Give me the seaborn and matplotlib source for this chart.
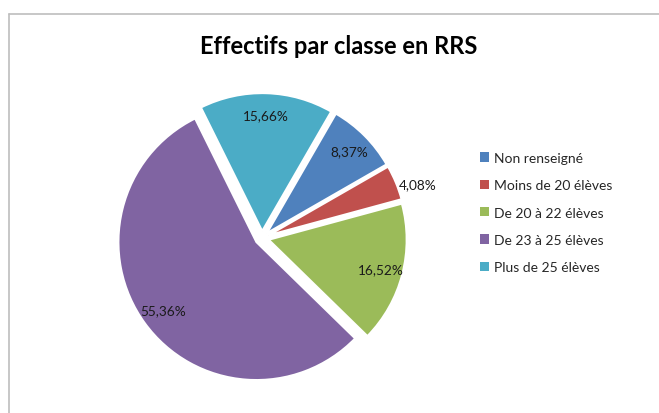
"""
Effectifs par classe en RRS - pie chart
"""

import numpy as np
import matplotlib
matplotlib.use("Agg")
import matplotlib.pyplot as plt
from matplotlib.lines import Line2D
from matplotlib.patches import Patch
import seaborn as sns

# ---------- DATA ----------
categories = ["Non renseigné", "Moins de 20 élèves", "De 20 à 22 élèves",
              "De 23 à 25 élèves", "Plus de 25 élèves"]
values = [8.37, 4.08, 16.52, 55.36, 15.66]
colors = ["#4F81BD", "#C0504D", "#9BBB59", "#8064A2", "#4BACC6"]
title = "Effectifs par classe en RRS"

# ---------- STYLE ----------
sns.set_theme(style="white")
plt.rcParams["font.family"] = ["Lato", "DejaVu Sans"]
palette = sns.color_palette(colors)

fig = plt.figure(figsize=(6.59, 4.14), dpi=100)

# chart frame (runs off right and bottom like the original)
fig.add_artist(Line2D([9 / 659, 1], [1 - 15 / 414, 1 - 15 / 414],
                      color="#BEBEBE", lw=1.2))
fig.add_artist(Line2D([9 / 659, 9 / 659], [0, 1 - 15 / 414],
                      color="#BEBEBE", lw=1.2))

fig.text(0.514, 1 - 46 / 414, title, ha="center", va="center",
         fontsize=17, fontweight="bold", color="#000000")

# pie axes: centre at (262, 239) px, radius 138 px
r_px = 138
half = 1.2 * r_px
ax = fig.add_axes([(262 - half) / 659, (175 - half) / 414,
                   2 * half / 659, 2 * half / 414])

wedges, texts, autotexts = ax.pie(
    values, colors=palette, startangle=60, counterclock=False,
    explode=[0.05] * len(values), autopct="%.2f",
    pctdistance=0.84, wedgeprops=dict(edgecolor="white", linewidth=1.5),
    textprops=dict(fontsize=9.8, color="#1a1a1a"))
ax.set_xlim(-1.2, 1.2)
ax.set_ylim(-1.2, 1.2)
ax.set_aspect("equal")
ax.axis("off")

# labels show the values as given, French decimal comma
for t, v in zip(autotexts, values):
    t.set_text(f"{v:.2f}%".replace(".", ","))

# small slice: label outside the pie
small = int(np.argmin(values))
w = wedges[small]
mid = np.deg2rad((w.theta1 + w.theta2) / 2)
autotexts[small].set_position((1.07 * np.cos(mid), 1.07 * np.sin(mid) - 0.02))
autotexts[small].set_ha("left")

# ---------- LEGEND ----------
handles = [Patch(facecolor=c, edgecolor="none") for c in palette]
fig.legend(handles, categories, loc="upper left",
           bbox_to_anchor=(480 / 659, 1 - 153 / 414), frameon=False,
           fontsize=10, handlelength=0.65, handleheight=0.65,
           handletextpad=0.35, labelspacing=1.1, borderpad=0,
           borderaxespad=0)

plt.savefig("out.png", dpi=100)
plt.close()
